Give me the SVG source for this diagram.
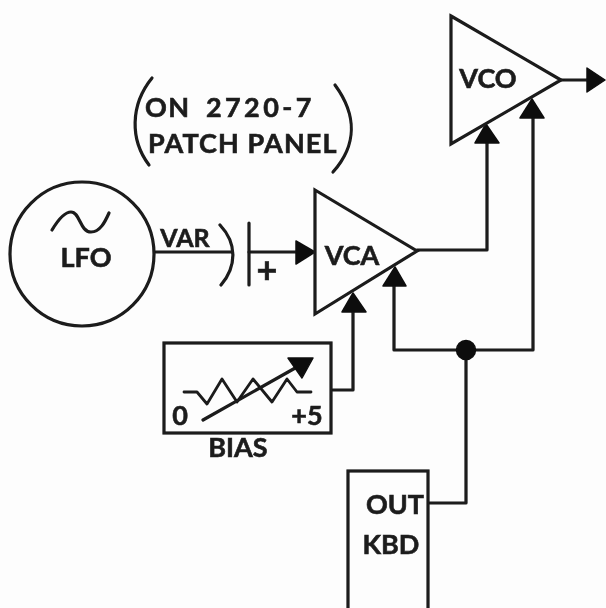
<svg xmlns="http://www.w3.org/2000/svg" width="606" height="608" viewBox="0 0 606 608">
<style>
.s{fill:none;stroke:#1a1a1a;stroke-width:3.2;stroke-linejoin:round;stroke-linecap:round}
.n{fill:#fdfdfd;stroke:#1a1a1a;stroke-width:3.2;stroke-linejoin:miter}
.a{fill:#111;stroke:#111;stroke-width:1.5;stroke-linejoin:round}
.t{font-family:"Lato","Open Sans",sans-serif;font-weight:700;fill:#1c1c1c;stroke:#1c1c1c;stroke-width:.6;font-size:27px;text-anchor:middle}
</style>
<defs><filter id="soft" filterUnits="userSpaceOnUse" x="0" y="0" width="606" height="608"><feGaussianBlur stdDeviation="0.6"/></filter></defs>
<rect width="606" height="608" fill="#fdfdfd"/>
<g filter="url(#soft)">
<g id="connectors">
<path class="s" d="M155 252H232"/>
<path class="s" d="M249 252H298"/>
<path class="s" d="M417 250H487V142"/>
<path class="s" d="M561 80H588"/>
<path class="s" d="M394 285V350H533V117"/>
<path class="s" d="M331 390H353V311"/>
<path class="s" d="M428 503H466V350"/>
<path class="a" d="M296 241L315 252L296 264Z"/>
<path class="a" d="M587 68L605 80L587 92Z"/>
<path class="a" d="M475 143L486 124L499 143Z"/>
<path class="a" d="M520 118L532 99L544 118Z"/>
<path class="a" d="M383 286L395 267L406 286Z"/>
<path class="a" d="M342 312L353 293L366 312Z"/>
<circle class="a" cx="466" cy="350" r="9.5"/>
</g>
<g id="lfo">
<circle class="n" cx="82" cy="254" r="72"/>
<path class="s" d="M52 230C58 220 64 212 71 212C80 212 80 232 91 232C100 232 105 222 109 213"/>
<text class="t" x="86" y="267">LFO</text>
</g>
<g id="var-capacitor">
<text class="t" x="185" y="247" style="font-size:25px">VAR</text>
<path class="s" d="M220 225C237 243 237 266 221 285"/>
<path class="s" d="M249 223V285"/>
<text class="t" x="267" y="283" style="font-size:36px">+</text>
</g>
<g id="patch-note">
<path class="s" d="M152 78C130 105 130 140 149 165"/>
<path class="s" d="M335 85C357 115 357 145 333 172"/>
<text class="t" x="145" y="117" style="text-anchor:start;letter-spacing:1.5px">ON<tspan x="206" style="letter-spacing:3.4px">2720-7</tspan></text>
<text class="t" x="148" y="153" style="text-anchor:start;letter-spacing:1.1px">PATCH PANEL</text>
</g>
<g id="vca">
<path class="n" d="M315 190L417 251L315 314Z"/>
<text class="t" x="352" y="265">VCA</text>
</g>
<g id="vco">
<path class="n" d="M451 16L561 80L451 144Z"/>
<text class="t" x="488" y="88">VCO</text>
</g>
<g id="bias">
<rect class="n" x="164" y="343" width="167" height="90"/>
<path class="s" d="M184 392H197L207 404L222 379L237 402L253 379L272 402L287 379L297 392H311" style="stroke-width:2.8"/>
<path class="s" d="M203 420L297 367"/>
<path class="a" d="M288 358L313 358L302 378Z"/>
<text class="t" x="180" y="425">0</text>
<text class="t" x="307" y="425">+5</text>
<text class="t" x="238" y="457">BIAS</text>
</g>
<g id="kbd">
<rect class="n" x="348" y="471" width="80" height="145"/>
<text class="t" x="395" y="514">OUT</text>
<text class="t" x="391" y="554">KBD</text>
</g>
</g>
</svg>
